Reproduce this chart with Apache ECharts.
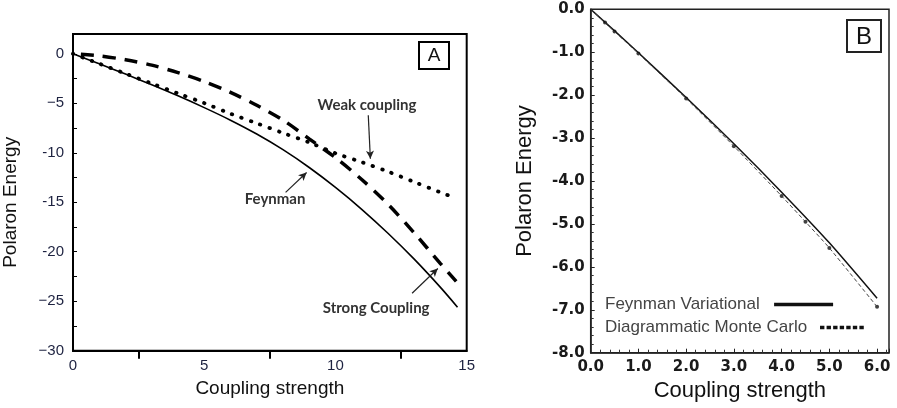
<!DOCTYPE html>
<html><head><meta charset="utf-8">
<script src="https://cdn.jsdelivr.net/npm/echarts@6/dist/echarts.min.js"></script>
<style>html,body{margin:0;padding:0;background:#fff}#c{width:897px;height:408px}</style>
</head><body><div id="c"></div>
<script>
// ---- Panel A data ----
const feynmanAx = [0,1,2,3,4,5,6,7,8,9,10,11,12,13,14,14.65];
const feynmanAy = [0,-1.01,-2.05,-3.13,-4.25,-5.44,-6.71,-8.11,-9.69,-11.49,-13.5,-15.71,-18.13,-20.75,-23.6,-25.6];
const weakAx = [0,1,2,3,4,5,6,7,8,9,10,11,12,13,14,14.4];
const weakAy = [0,-1.0,-2.0,-3.0,-4.0,-4.98,-6.05,-7.02,-8.0,-8.95,-10.05,-10.95,-11.9,-12.95,-14.0,-14.4];
const strongAx = [0.3,1,2,3,4,5,6,7,8,9,10,11,12,13,14,14.6];
const strongAy = [-0.05,-0.2,-0.6,-1.15,-1.9,-2.8,-3.9,-5.2,-6.7,-8.6,-10.5,-12.7,-15.2,-18.1,-21.2,-23.0];
const yTickLabelsA = {'0':'0','-5':'\u22125','-10':'-10','-15':'-15','-20':'-20','-25':'\u221225','-30':'\u221230'};
const xTickLabelsA = ['0','5','10','15'];
const annotTexts = ['Weak coupling','Feynman','Strong Coupling'];
const annotTextAt = [[11.2,-5.15],[7.7,-14.7],[11.55,-25.7]];
const annotArrowFrom = [[11.25,-6.2],[8.1,-14.0],[12.92,-24.2]];
const annotArrowTo = [[11.33,-10.6],[8.9,-12.0],[13.9,-21.7]];
// ---- Panel B data ----
const feynmanBx = [0,0.5,1,2,3,4,5,6];
const feynmanBy = [0,-0.503,-1.013,-2.055,-3.133,-4.26,-5.44,-6.73];
const dmcBx = [0,0.3,0.5,1,2,3,4,4.5,5,6];
const dmcBy = [0,-0.31,-0.52,-1.03,-2.08,-3.19,-4.35,-4.95,-5.56,-6.93];
const seriesNamesB = ['Feynman Variational','Diagrammatic Monte Carlo'];

const zip = (xs, ys) => xs.map((x, i) => [x, ys[i]]);
const AR = 'Liberation Sans, Arial, sans-serif';
const navy = '#1d2240';
const dashIcon = 'path://' + [0,1,2,3,4,5,6].map(k => 'M' + (k * 7.5) + ',0h5v4h-5z').join(' ');

const chart = echarts.init(document.getElementById('c'));
const legendBase = {
  orient: 'vertical', align: 'right', left: 600, itemHeight: 3.5, selectedMode: false,
  textStyle: {fontFamily: AR, fontSize: 17, color: '#444'}
};
const option = {
  animation: false,
  backgroundColor: '#fff',
  grid: [
    {left: 72, top: 34, width: 394.7, height: 316.7, show: true, borderColor: '#000', borderWidth: 2, backgroundColor: 'transparent'},
    {left: 590.7, top: 9.3, width: 298.3, height: 343.4, show: true, borderColor: '#222', borderWidth: 1.5, backgroundColor: 'transparent'}
  ],
  xAxis: [
    {gridIndex: 0, type: 'value', min: 0, max: 15, interval: 5,
      name: 'Coupling strength', nameLocation: 'middle', nameGap: 29,
      nameTextStyle: {fontFamily: AR, fontSize: 19, color: '#111'},
      axisLine: {show: true, onZero: false, lineStyle: {color: '#000', width: 2}},
      axisTick: {show: false, inside: false},
      minorTick: {show: true, splitNumber: 2, length: 8, lineStyle: {color: '#000', width: 2}},
      splitLine: {show: false},
      axisLabel: {fontFamily: AR, fontSize: 15, color: navy, margin: 8,
        formatter: v => xTickLabelsA[Math.round(v / 5)]}
    },
    {gridIndex: 1, type: 'value', min: 0, max: 6.25, interval: 1,
      name: 'Coupling strength', nameLocation: 'middle', nameGap: 24,
      nameTextStyle: {fontFamily: AR, fontSize: 22, color: '#111'},
      axisLine: {show: true, onZero: false, lineStyle: {color: '#222', width: 1.5}},
      axisTick: {show: true, inside: true, length: 4, lineStyle: {color: '#222', width: 1}},
      minorTick: {show: true, splitNumber: 5, length: 3, lineStyle: {color: '#333', width: 1}},
      splitLine: {show: false},
      axisLabel: {fontFamily: 'DejaVu Sans', fontWeight: 'bold', fontSize: 15, color: '#1a1a1a', margin: 7,
        formatter: v => (Math.abs(v - Math.round(v)) < 1e-9 ? v.toFixed(1) : '')}
    }
  ],
  yAxis: [
    {gridIndex: 0, type: 'value', min: -30, max: 2, interval: 5,
      name: 'Polaron Energy', nameLocation: 'middle', nameGap: 53, nameRotate: 90,
      nameTextStyle: {fontFamily: AR, fontSize: 19, color: '#111', padding: [0, 20, 0, 0]},
      axisLine: {show: true, onZero: false, lineStyle: {color: '#000', width: 2}},
      axisTick: {show: true, inside: true, length: 4, lineStyle: {color: '#000', width: 1}},
      minorTick: {show: true, splitNumber: 2, length: 4, lineStyle: {color: '#000', width: 1}},
      splitLine: {show: false},
      axisLabel: {fontFamily: AR, fontSize: 15, color: navy, margin: 9,
        formatter: v => (yTickLabelsA[String(v)] !== undefined ? yTickLabelsA[String(v)] : '')}
    },
    {gridIndex: 1, type: 'value', min: -8, max: 0, interval: 1,
      name: 'Polaron Energy', nameLocation: 'middle', nameGap: 55, nameRotate: 90,
      nameTextStyle: {fontFamily: AR, fontSize: 22, color: '#111'},
      axisLine: {show: true, onZero: false, lineStyle: {color: '#222', width: 1.5}},
      axisTick: {show: true, inside: true, length: 4, lineStyle: {color: '#222', width: 1}},
      minorTick: {show: true, splitNumber: 5, length: 3, lineStyle: {color: '#333', width: 1}},
      splitLine: {show: false},
      axisLabel: {fontFamily: 'DejaVu Sans', fontWeight: 'bold', fontSize: 15, color: '#1a1a1a', margin: 6,
        formatter: v => (v === 0 ? '0.0' : v.toFixed(1))}
    }
  ],
  legend: [
    Object.assign({}, legendBase, {top: 291, itemWidth: 59, formatter: n => n + '  ',
      data: [{name: seriesNamesB[0], icon: 'rect', itemStyle: {color: '#111'}}]}),
    Object.assign({}, legendBase, {top: 314, itemWidth: 50, formatter: n => n + ' ',
      data: [{name: seriesNamesB[1], icon: dashIcon, itemStyle: {color: '#111'}}]})
  ],
  series: [
    {name: 'Feynman', type: 'line', xAxisIndex: 0, yAxisIndex: 0, data: zip(feynmanAx, feynmanAy),
      smooth: 0.3, showSymbol: false, symbol: 'none', lineStyle: {color: '#000', width: 1.6},
      markLine: {silent: true, symbol: ['none', 'arrow'], symbolSize: [6, 8], label: {show: false},
        lineStyle: {color: '#222', width: 1.2, type: 'solid'},
        data: annotArrowFrom.map((f, i) => [{coord: f}, {coord: annotArrowTo[i]}])}
    },
    {name: 'Weak coupling', type: 'line', xAxisIndex: 0, yAxisIndex: 0, data: zip(weakAx, weakAy),
      smooth: 0.3, showSymbol: false, symbol: 'none',
      lineStyle: {color: '#000', width: 3.8, type: [0.5, 9.5], cap: 'round'}},
    {name: 'Strong Coupling', type: 'line', xAxisIndex: 0, yAxisIndex: 0, data: zip(strongAx, strongAy),
      smooth: 0.3, showSymbol: false, symbol: 'none',
      lineStyle: {color: '#000', width: 3.5, type: [13, 9]}},
    {name: seriesNamesB[0], type: 'line', xAxisIndex: 1, yAxisIndex: 1, data: zip(feynmanBx, feynmanBy),
      smooth: 0.2, showSymbol: false, symbol: 'none', itemStyle: {color: '#111'}, lineStyle: {color: '#111', width: 1.5}},
    {name: seriesNamesB[1], type: 'line', xAxisIndex: 1, yAxisIndex: 1, data: zip(dmcBx, dmcBy),
      smooth: 0.2, showSymbol: false, symbol: 'none', itemStyle: {color: '#111'}, lineStyle: {color: '#444', width: 1, type: [4, 2.5]}},
    {name: 'DMC points', type: 'scatter', xAxisIndex: 1, yAxisIndex: 1, data: zip(dmcBx.slice(1), dmcBy.slice(1)),
      symbolSize: 4, itemStyle: {color: '#111'}, silent: true}
  ]
};
chart.setOption(option);

const g = [];
annotTexts.forEach((t, i) => {
  const p = chart.convertToPixel({gridIndex: 0}, annotTextAt[i]);
  g.push({type: 'text', x: p[0], y: p[1], silent: true,
    style: {text: t, fontFamily: 'Lato, Open Sans, sans-serif', fontWeight: 'bold', fontSize: 15, fill: '#333',
      align: 'center', verticalAlign: 'middle'}});
});
// panel letter boxes
g.push({type: 'rect', shape: {x: 419, y: 42, width: 30, height: 27}, style: {fill: '#fff', stroke: '#000', lineWidth: 2}, silent: true});
g.push({type: 'text', x: 434, y: 56, style: {text: 'A', fontFamily: AR, fontSize: 19, fill: '#111', align: 'center', verticalAlign: 'middle'}, silent: true});
g.push({type: 'rect', shape: {x: 847, y: 20, width: 34, height: 32}, style: {fill: '#fff', stroke: '#222', lineWidth: 2}, silent: true});
g.push({type: 'text', x: 864, y: 37, style: {text: 'B', fontFamily: AR, fontSize: 24, fill: '#111', align: 'center', verticalAlign: 'middle'}, silent: true});
chart.setOption({graphic: g});
</script></body></html>
